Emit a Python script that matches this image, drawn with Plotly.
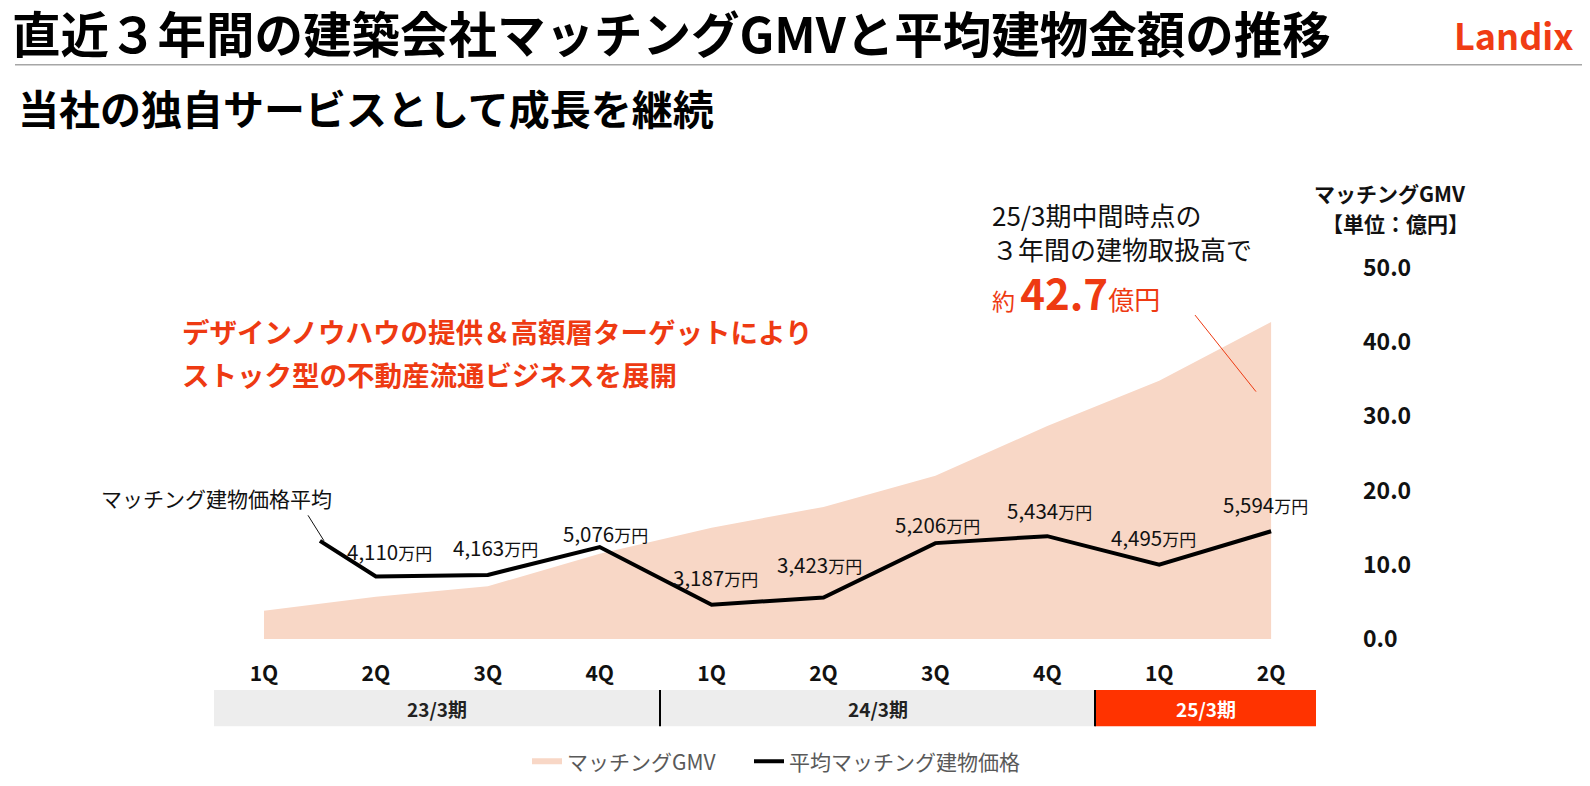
import plotly.graph_objects as go

# ---------------- data ----------------
quarter_labels = ["1Q", "2Q", "3Q", "4Q", "1Q", "2Q", "3Q", "4Q", "1Q", "2Q"]
quarter_index = [0, 1, 2, 3, 4, 5, 6, 7, 8, 9]
gmv_oku = [3.8, 5.7, 7.1, 11.5, 15.0, 17.8, 22.0, 28.7, 34.8, 42.7]   # マッチングGMV（億円, 累計）
price_index = [0.5, 1, 2, 3, 4, 5, 6, 7, 8, 9]                        # line is visible from mid 1Q
price_man = [5280, 4110, 4163, 5076, 3187, 3423, 5206, 5434, 4495, 5594]  # 平均建物価格（万円）
price_labeled = [False, True, True, True, True, True, True, True, True, True]
periods = ["23/3期", "24/3期", "25/3期"]
gmv_ticks = [0, 10, 20, 30, 40, 50]
gmv_total_text = "42.7"

# ---------------- geometry helpers ----------------
W, H = 1590, 786
L, R, T, B = 60, 1340, 150, 640
X0_PX, DX_PX = 256.0, 111.9         # pixel of quarter 0 and quarter spacing
GMV_PX = 7.56                       # pixels per 億円
P_ZERO_PX, P_PER_PX = 704.0, 32.2   # price axis: pixel of 0, 万円 per pixel

def px(x):
    return (x - L) / (R - L)

def py(y):
    return (B - y) / (B - T)

xmin = -(X0_PX - L) / DX_PX
xmax = (R - X0_PX) / DX_PX
ymax_gmv = (B - T) / GMV_PX
y2min = (P_ZERO_PX - B) * P_PER_PX
y2max = (P_ZERO_PX - T) * P_PER_PX

FONT = "Noto Sans CJK JP"
RED = "#EE3A12"
AREA = "#F8D7C6"

fig = go.Figure()

fig.add_trace(go.Scatter(
    x=quarter_index, y=gmv_oku, name="マッチングGMV",
    mode="none", fill="tozeroy", fillcolor=AREA,
    hoverinfo="skip", yaxis="y", legend="legend",
))
fig.add_trace(go.Scatter(
    x=price_index, y=price_man, name="平均マッチング建物価格",
    mode="lines", line=dict(color="black", width=4),
    hoverinfo="skip", yaxis="y2", legend="legend2",
))

annotations = []
shapes = []

# price labels
label_dx = [0, 14, 8, 6, 4, -4, 2, 2, -6, -6]
label_dy = [0, 26, 28, 14, 28, 33, 19, 26, 28, 27]
for i, (xi, v, show) in enumerate(zip(price_index, price_man, price_labeled)):
    if not show:
        continue
    annotations.append(dict(
        x=xi, y=v, xref="x", yref="y2",
        text=f"{v:,}<span style='font-size:17px'>万円</span>",
        showarrow=False, xanchor="center", yanchor="middle",
        xshift=label_dx[i], yshift=label_dy[i],
        font=dict(family=FONT, size=20.5, color="#111111"),
    ))

def ann(x, y, text, size, color="#111111", anchor="left", bold=False, **kw):
    t = f"<b>{text}</b>" if bold else text
    annotations.append(dict(
        x=px(x), y=py(y), xref="paper", yref="paper", text=t,
        showarrow=False, xanchor=anchor, yanchor="middle",
        font=dict(family=FONT, size=size, color=color), **kw))

# titles
ann(2, 22, "直近３年間の建築会社マッチングGMVと平均建物金額の推移", 48.5, "#000000", bold=True)
ann(8, 98, "当社の独自サービスとして成長を継続", 41, "#000000", bold=True)
ann(1506, 24, "Landix", 36, "#F03C14", anchor="center", bold=True)
shapes.append(dict(type="line", xref="paper", yref="paper",
                   x0=px(7), x1=px(1578), y0=py(55), y1=py(55),
                   line=dict(color="#A6A6A6", width=1.5)))

# red message
ann(172, 326, "デザインノウハウの提供＆高額層ターゲットにより", 27.5, RED, bold=True)
ann(172, 370, "ストック型の不動産流通ビジネスを展開", 27.5, RED, bold=True)

# upper-right callout
ann(982, 208, "25/3期中間時点の", 26, "#111111")
ann(982, 242, "３年間の建物取扱高で", 26, "#111111")
annotations.append(dict(
    x=px(982), y=py(286), xref="paper", yref="paper", showarrow=False,
    xanchor="left", yanchor="middle",
    text=("<span style='font-size:23px'>約 </span>"
          f"<span style='font-size:42px;font-weight:bold'>{gmv_total_text}</span>"
          "<span style='font-size:26px'>億円</span>"),
    font=dict(family=FONT, size=26, color=RED)))
shapes.append(dict(type="line", xref="paper", yref="paper",
                   x0=px(1187), y0=py(310), x1=px(1248), y1=py(388),
                   line=dict(color=RED, width=1)))

# left callout for the line
ann(326, 496, "マッチング建物価格平均", 21, "#111111", anchor="right")
shapes.append(dict(type="line", xref="paper", yref="paper",
                   x0=px(300), y0=py(514), x1=px(316), y1=py(540),
                   line=dict(color="#111111", width=1)))

# axis title
ann(1382, 186, "マッチングGMV", 21, "#111111", anchor="center", bold=True)
ann(1387, 216, "【単位：億円】", 21, "#111111", anchor="center", bold=True)

# period bar
bar_top, bar_bot = 692, 729
bar_edges = [(206, 652, "#EDEDED", "#222222"), (652, 1087, "#EDEDED", "#222222"),
             (1087, 1308, "#FF3300", "#FFFFFF")]
for (x0, x1, fc, tc), name in zip(bar_edges, periods):
    shapes.append(dict(type="rect", xref="paper", yref="paper",
                       x0=px(x0), x1=px(x1), y0=py(bar_top), y1=py(bar_bot),
                       fillcolor=fc, line=dict(width=0), layer="below"))
    ann((x0 + x1) / 2, (bar_top + bar_bot) / 2, name, 19, tc, anchor="center", bold=True)
for xd in (652, 1087):
    shapes.append(dict(type="line", xref="paper", yref="paper",
                       x0=px(xd), x1=px(xd), y0=py(bar_top), y1=py(bar_bot),
                       line=dict(color="#000000", width=2)))

legend_font = dict(family=FONT, size=21, color="#595959")
fig.update_layout(
    width=W, height=H,
    margin=dict(l=L, r=W - R, t=T, b=H - B),
    paper_bgcolor="white", plot_bgcolor="white",
    font=dict(family=FONT, color="#111111"),
    showlegend=True,
    legend=dict(orientation="h", x=px(519), y=py(765), xanchor="left", yanchor="middle",
                font=legend_font, bgcolor="rgba(0,0,0,0)"),
    legend2=dict(orientation="h", x=px(741), y=py(765), xanchor="left", yanchor="middle",
                 font=legend_font, bgcolor="rgba(0,0,0,0)"),
    xaxis=dict(range=[xmin, xmax], tickvals=quarter_index, ticktext=quarter_labels,
               showgrid=False, zeroline=False, showline=False, ticks="",
               ticklabelstandoff=20,
               tickfont=dict(family=FONT, size=21, color="#111111", weight="bold")),
    yaxis=dict(range=[0, ymax_gmv], side="right", tickvals=gmv_ticks,
               ticktext=[f"{v:.1f}" for v in gmv_ticks],
               showgrid=False, zeroline=False, showline=False, ticks="",
               ticklabelstandoff=14,
               tickfont=dict(family=FONT, size=23, color="#111111", weight="bold")),
    yaxis2=dict(range=[y2min, y2max], overlaying="y", side="left", visible=False,
                showgrid=False, zeroline=False),
    annotations=annotations,
    shapes=shapes,
    hovermode=False,
)

fig.write_html("out.html")
